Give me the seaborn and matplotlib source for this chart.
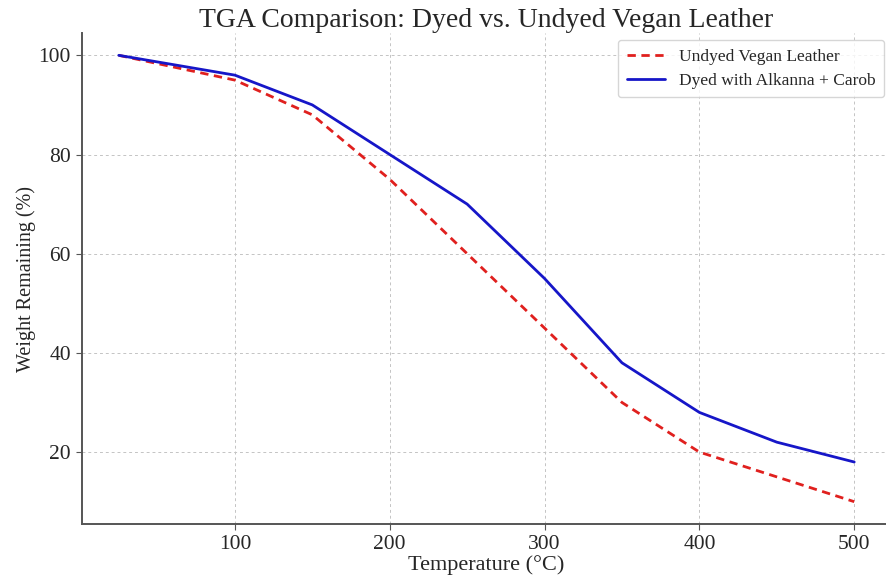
import matplotlib
matplotlib.use("Agg")
import matplotlib.pyplot as plt
import seaborn as sns
import pandas as pd

temperature = [25, 100, 150, 200, 250, 300, 350, 400, 450, 500]
undyed = [100, 95, 88, 75, 60, 45, 30, 20, 15, 10]
dyed = [100, 96, 90, 80, 70, 55, 38, 28, 22, 18]
labels = ["Undyed Vegan Leather", "Dyed with Alkanna + Carob"]

sns.set_style("ticks")
plt.rcParams["font.family"] = ["Liberation Serif", "DejaVu Serif"]

df = pd.DataFrame({
    "Temperature": temperature * 2,
    "Weight": undyed + dyed,
    "Sample": [labels[0]] * len(temperature) + [labels[1]] * len(temperature),
})

fig = plt.figure(figsize=(8.86, 5.77), dpi=100)
ax = fig.add_axes([82 / 886, 1 - 524 / 577, (891 - 82) / 886, (524 - 33) / 577])

sns.lineplot(data=df, x="Temperature", y="Weight", hue="Sample", style="Sample",
             palette={labels[0]: "#e0201e", labels[1]: "#1616c8"},
             dashes={labels[0]: (3, 2), labels[1]: ""},
             linewidth=2, ax=ax)

ax.set_xlim(1.25, 523.75)
ax.set_ylim(5.5, 104.5)
ax.set_xticks([100, 200, 300, 400, 500])
ax.set_yticks([20, 40, 60, 80, 100])
ax.grid(True, linestyle=(0, (3, 3)), color="#c4c4c4", linewidth=0.7)
ax.tick_params(labelsize=15.5, length=4, color="#555555", pad=4)
for s in ["top", "right"]:
    ax.spines[s].set_visible(False)
for s in ["left", "bottom"]:
    ax.spines[s].set_linewidth(1.4)
    ax.spines[s].set_color("#555555")

ax.set_xlabel("Temperature (°C)", fontsize=16, labelpad=1)
ax.set_ylabel("Weight Remaining (%)", fontsize=14.5, labelpad=2)
ax.set_title("TGA Comparison: Dyed vs. Undyed Vegan Leather", fontsize=20, pad=4)

leg = ax.legend(loc="upper right", fontsize=12.5, frameon=True, fancybox=True,
                bbox_to_anchor=((884 - 82) / 809, (524 - 40) / 491), borderaxespad=0,
                borderpad=0.5, handlelength=2.2, labelspacing=0.45)
leg.get_frame().set_edgecolor("#cccccc")

fig.savefig("out.png", dpi=100)
